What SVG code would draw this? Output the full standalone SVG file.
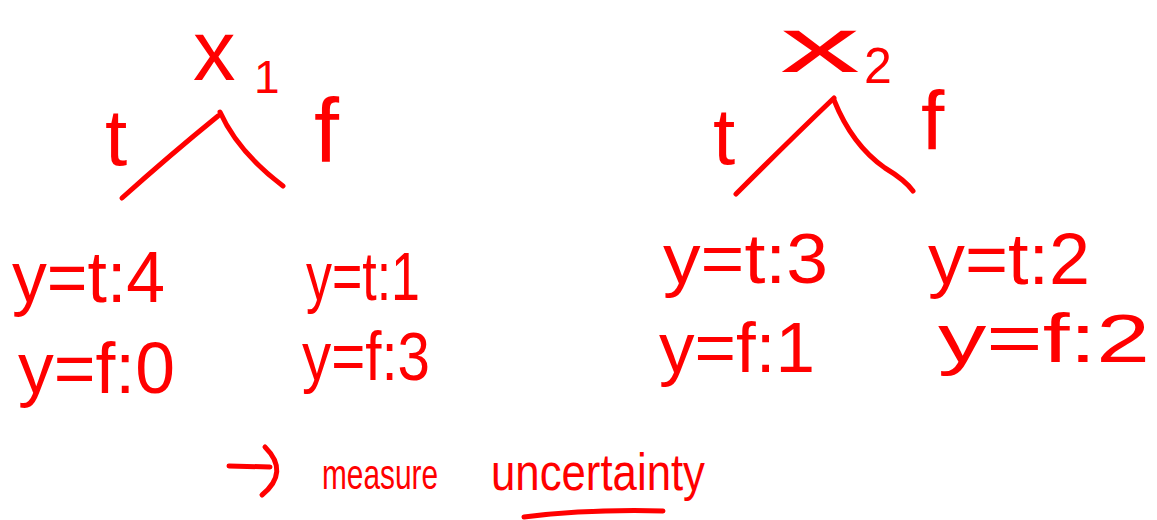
<svg xmlns="http://www.w3.org/2000/svg" width="1157" height="520" viewBox="0 0 1157 520">
<style>
.t{font-family:"Liberation Sans",Arial,sans-serif;fill:#ff0000;}
.s{fill:none;stroke:#ff0000;stroke-width:5;stroke-linecap:round;stroke-linejoin:round;}
</style>
<rect width="1157" height="520" fill="#ffffff"/>
<g id="connectors">
<path class="s" d="M122,198 Q170,155 218,116"/>
<path class="s" d="M220,112 Q238,152 283,186"/>
<path class="s" d="M736,194 Q790,140 834,98"/>
<path class="s" d="M834,100 Q852,145 885,168 Q905,180 913,191"/>
<path class="s" d="M229,466 L270,467"/>
<path class="s" d="M265,447 Q290,472 262,495"/>
<path class="s" d="M524,517 Q590,509 663,511"/>
</g>
<g id="node-x1">
<text class="t" x="193" y="80" font-size="85">x</text>
<text class="t" x="254" y="93" font-size="46">1</text>
</g>
<g id="label-x1-t"><text class="t" x="105" y="165" font-size="80">t</text></g>
<g id="label-x1-f"><text class="t" x="314" y="162" font-size="90">f</text></g>
<g id="node-x2">
<text class="t" x="780" y="72" font-size="78" textLength="80" lengthAdjust="spacingAndGlyphs">x</text>
<text class="t" x="864" y="83" font-size="50">2</text>
</g>
<g id="label-x2-t"><text class="t" x="713" y="164" font-size="80">t</text></g>
<g id="label-x2-f"><text class="t" x="921" y="150" font-size="84">f</text></g>
<g id="leaf-x1-t">
<text class="t" x="12" y="302" font-size="72" textLength="153" lengthAdjust="spacingAndGlyphs">y=t:4</text>
<text class="t" x="18" y="393" font-size="72" textLength="157" lengthAdjust="spacingAndGlyphs">y=f:0</text>
</g>
<g id="leaf-x1-f">
<text class="t" x="306" y="300" font-size="68" textLength="114" lengthAdjust="spacingAndGlyphs">y=t:1</text>
<text class="t" x="302" y="380" font-size="68" textLength="128" lengthAdjust="spacingAndGlyphs">y=f:3</text>
</g>
<g id="leaf-x2-t">
<text class="t" x="663" y="283" font-size="70" textLength="165" lengthAdjust="spacingAndGlyphs">y=t:3</text>
<text class="t" x="659" y="372" font-size="70" textLength="156" lengthAdjust="spacingAndGlyphs">y=f:1</text>
</g>
<g id="leaf-x2-f">
<text class="t" x="928" y="284" font-size="72" textLength="162" lengthAdjust="spacingAndGlyphs">y=t:2</text>
<text class="t" x="938" y="362" font-size="68" textLength="212" lengthAdjust="spacingAndGlyphs">y=f:2</text>
</g>
<g id="caption">
<text class="t" x="322" y="489" font-size="42" textLength="116" lengthAdjust="spacingAndGlyphs">measure</text>
<text class="t" x="491" y="490" font-size="52" textLength="214" lengthAdjust="spacingAndGlyphs">uncertainty</text>
</g>
</svg>
